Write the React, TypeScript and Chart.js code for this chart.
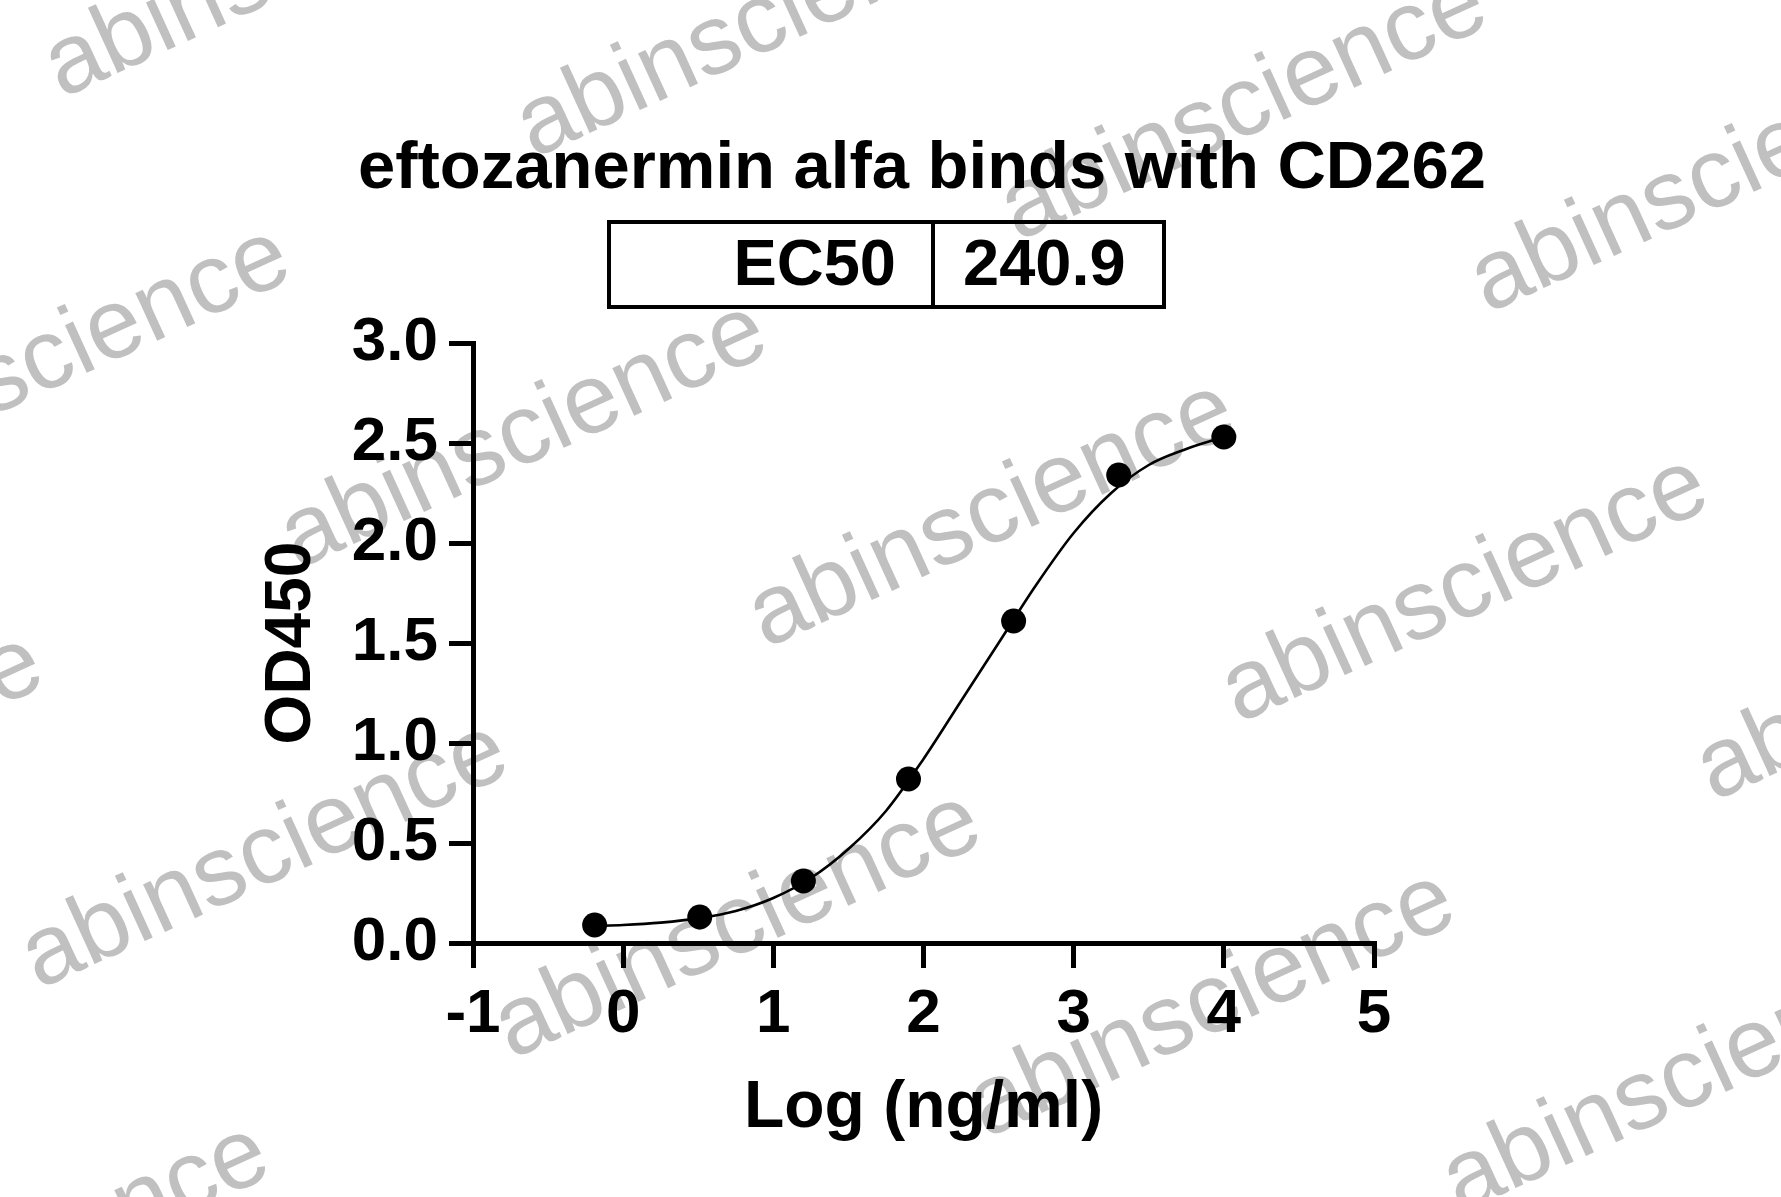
import React, { useEffect, useRef } from 'react';
import { Chart, registerables } from 'chart.js';

Chart.register(...registerables);

// ---- data ----
const chartTitle = 'eftozanermin alfa binds with CD262';
const ec50Label = 'EC50';
const ec50Value = '240.9';
const xAxisTitle = 'Log (ng/ml)';
const yAxisTitle = 'OD450';

const logConc = [-0.19, 0.51, 1.2, 1.9, 2.6, 3.3, 4.0];
const od450 = [0.09, 0.13, 0.31, 0.82, 1.61, 2.34, 2.53];

// fitted curve
const fitX = [-0.19, 0, 0.25, 0.5, 0.75, 1.0, 1.25, 1.5, 1.75, 2.0, 2.25, 2.5, 2.75, 3.0, 3.25, 3.5, 3.75, 4.0];
const fitY = [0.085, 0.09, 0.102, 0.123, 0.16, 0.225, 0.325, 0.47, 0.66, 0.92, 1.21, 1.5, 1.79, 2.05, 2.25, 2.39, 2.47, 2.53];

const xTicks = [-1, 0, 1, 2, 3, 4, 5];
const yTicks = [0, 0.5, 1.0, 1.5, 2.0, 2.5, 3.0];

const watermarkText = 'abinscience';
const watermarkCenters: [number, number][] = [
  [288, -35], [760, 25], [1244, 108], [1714, 180],
  [47, 361], [524, 436], [992, 515], [1465, 590], [1940, 668],
  [-200, 768], [265, 856], [738, 926], [1212, 1005], [1686, 1080],
  [26, 1258],
];

const FONT = '"Liberation Sans", Arial, Helvetica, sans-serif';
const W = 1781;
const H = 1197;

const watermarkPlugin = {
  id: 'watermark',
  beforeDraw(chart: any) {
    const ctx = chart.ctx as CanvasRenderingContext2D;
    ctx.save();
    ctx.fillStyle = '#ffffff';
    ctx.fillRect(0, 0, chart.width, chart.height);
    ctx.font = `99px ${FONT}`;
    ctx.fillStyle = '#c0c0c0';
    ctx.textAlign = 'center';
    ctx.textBaseline = 'middle';
    for (const [x, y] of watermarkCenters) {
      ctx.save();
      ctx.translate(x, y);
      ctx.rotate((-24.6 * Math.PI) / 180);
      ctx.fillText(watermarkText, 0, 0);
      ctx.restore();
    }
    ctx.restore();
  },
};

export default function App() {
  const canvasRef = useRef<HTMLCanvasElement | null>(null);

  useEffect(() => {
    document.documentElement.style.overflow = 'hidden';
    const canvas = canvasRef.current;
    if (!canvas) return;
    const chart = new Chart(canvas, {
      type: 'scatter',
      data: {
        datasets: [
          {
            type: 'scatter',
            label: 'OD450',
            data: logConc.map((x, i) => ({ x, y: od450[i] })),
            backgroundColor: '#000000',
            borderColor: '#000000',
            pointRadius: 12.5,
            pointBorderWidth: 0,
            pointHoverRadius: 12.5,
            order: 0,
          },
          {
            type: 'line',
            label: 'fit',
            data: fitX.map((x, i) => ({ x, y: fitY[i] })),
            borderColor: '#000000',
            borderWidth: 2.6,
            pointRadius: 0,
            fill: false,
            cubicInterpolationMode: 'monotone',
            order: 1,
          } as any,
        ],
      },
      options: {
        responsive: false,
        animation: false,
        devicePixelRatio: 1,
        layout: { padding: { left: 254, top: 343, right: 407, bottom: 49 } },
        plugins: {
          legend: { display: false },
          tooltip: { enabled: false },
          title: { display: false },
        },
        scales: {
          x: {
            type: 'linear',
            min: -1,
            max: 5,
            afterFit(s: any) {
              s.height = 205;
            },
            afterBuildTicks(s: any) {
              s.ticks = xTicks.map((v) => ({ value: v }));
            },
            grid: {
              drawOnChartArea: false,
              drawTicks: true,
              tickLength: 25,
              lineWidth: 5,
              color: '#000000',
            },
            border: { display: true, width: 5, color: '#000000' },
            ticks: {
              color: '#000000',
              font: { family: FONT, size: 62, weight: 'bold' },
              padding: 10,
              maxRotation: 0,
              autoSkip: false,
              callback: (v: any) => String(v),
            },
            title: {
              display: true,
              text: xAxisTitle,
              color: '#000000',
              font: { family: FONT, size: 66, weight: 'bold' },
              padding: 0,
            },
          },
          y: {
            type: 'linear',
            min: 0,
            max: 3,
            afterFit(s: any) {
              s.width = 219;
            },
            afterBuildTicks(s: any) {
              s.ticks = yTicks.map((v) => ({ value: v }));
            },
            grid: {
              drawOnChartArea: false,
              drawTicks: true,
              tickLength: 24,
              lineWidth: 5,
              color: '#000000',
            },
            border: { display: true, width: 5, color: '#000000' },
            ticks: {
              color: '#000000',
              font: { family: FONT, size: 62, weight: 'bold' },
              padding: 11,
              autoSkip: false,
              callback: (v: any) => Number(v).toFixed(1),
            },
            title: {
              display: true,
              text: yAxisTitle,
              color: '#000000',
              font: { family: FONT, size: 64, weight: 'bold' },
              padding: 0,
            },
          },
        },
      } as any,
      plugins: [watermarkPlugin],
    });
    return () => chart.destroy();
  }, []);

  const textBase: React.CSSProperties = {
    position: 'absolute',
    fontFamily: FONT,
    fontWeight: 'bold',
    color: '#000',
    lineHeight: 1,
    whiteSpace: 'nowrap',
    margin: 0,
  };

  return (
    <div
      style={{
        position: 'absolute',
        left: 0,
        top: 0,
        width: W,
        height: H,
        overflow: 'hidden',
        background: '#fff',
      }}
    >
      <canvas
        ref={canvasRef}
        width={W}
        height={H}
        style={{ position: 'absolute', left: 0, top: 0, width: W, height: H }}
      />
      <div
        style={{
          ...textBase,
          fontSize: 67,
          left: 0,
          width: 1844,
          top: 131,
          textAlign: 'center',
        }}
      >
        {chartTitle}
      </div>
      <div
        style={{
          position: 'absolute',
          left: 607,
          top: 220,
          width: 559,
          height: 89,
          border: '4px solid #000',
          boxSizing: 'border-box',
        }}
      />
      <div
        style={{
          position: 'absolute',
          left: 930.5,
          top: 220,
          width: 4,
          height: 89,
          background: '#000',
        }}
      />
      <div style={{ ...textBase, fontSize: 65, left: 0, width: 896, top: 230, textAlign: 'right' }}>
        {ec50Label}
      </div>
      <div style={{ ...textBase, fontSize: 65, left: 963, top: 230 }}>{ec50Value}</div>
    </div>
  );
}
